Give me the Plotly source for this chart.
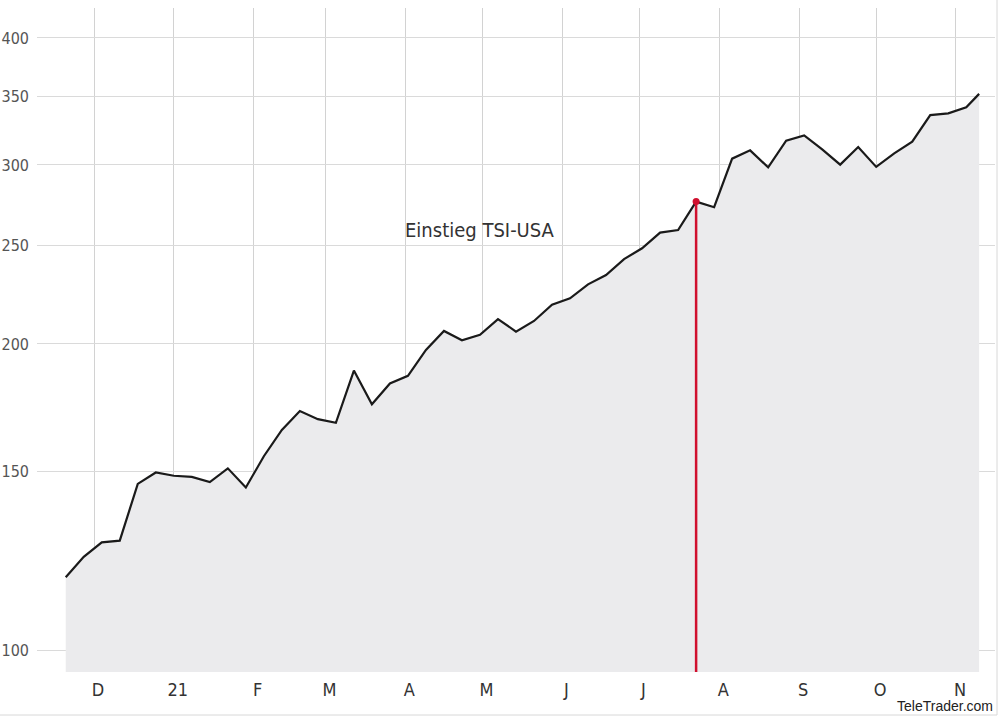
import plotly.graph_objects as go
import pandas as pd

# ---- data ----
dates = list(pd.date_range("2020-11-20", periods=51, freq="7D").strftime("%Y-%m-%d")) + ["2021-11-10"]
values = [117.9, 123.5, 127.6, 128.1, 145.7, 149.5, 148.4, 148.0, 146.3, 150.9,
          144.5, 155.1, 164.6, 171.8, 168.7, 167.3, 188.3, 174.5, 182.9, 186.1,
          197.3, 206.0, 201.7, 204.2, 211.6, 205.7, 210.7, 218.6, 221.8, 228.9,
          233.8, 242.4, 248.4, 257.4, 258.9, 276.1, 272.6, 304.3, 310.1, 298.4,
          317.0, 320.8, 310.8, 300.2, 312.4, 298.7, 308.0, 316.2, 335.9, 337.2,
          341.9, 352.4]
entry_index = 35
entry_label = "Einstieg TSI-USA"

month_ticks = ["2020-12-01", "2021-01-01", "2021-02-01", "2021-03-01", "2021-04-01",
               "2021-05-01", "2021-06-01", "2021-07-01", "2021-08-01", "2021-09-01",
               "2021-10-01", "2021-11-01"]
month_labels = ["D", "21", "F", "M", "A", "M", "J", "J", "A", "S", "O", "N"]
y_ticks = [100, 150, 200, 250, 300, 350, 400]
y_labels = [str(v) for v in y_ticks]

y_range_log = [1.9784, 2.6315]
x_range = ["2020-11-08 20:00", "2021-11-16 04:00"]

FONT = "Liberation Sans Narrow, DejaVu Sans Condensed, Arial Narrow, sans-serif"

fig = go.Figure()

fig.add_trace(go.Scatter(
    x=dates, y=values, mode="lines",
    line=dict(color="#1a1a1a", width=2.2),
    fill="tozeroy", fillcolor="#ebebed",
    hoverinfo="skip", showlegend=False,
))

y_floor = 10 ** y_range_log[0]
fig.add_trace(go.Scatter(
    x=[dates[entry_index], dates[entry_index]],
    y=[values[entry_index], y_floor],
    mode="lines", line=dict(color="#d0102e", width=2.5),
    hoverinfo="skip", showlegend=False,
))
fig.add_trace(go.Scatter(
    x=[dates[entry_index]], y=[values[entry_index]],
    mode="markers", marker=dict(color="#d0102e", size=7),
    hoverinfo="skip", showlegend=False,
))

fig.add_annotation(
    x="2021-04-30", y=2.413, xref="x", yref="y",
    text=entry_label, showarrow=False,
    font=dict(family=FONT, size=20, color="#333333"),
    xanchor="center", yanchor="middle",
)

fig.add_annotation(
    x=1.0, y=-0.0512, xref="paper", yref="paper",
    text="TeleTrader.com", showarrow=False,
    font=dict(family="Arial, Liberation Sans, sans-serif", size=14, color="#222222"),
    xanchor="right", yanchor="middle",
)

# thin frame at bottom and right of the image
fig.add_shape(type="line", xref="paper", yref="paper",
              x0=-0.04, x1=1.0021, y0=-0.0648, y1=-0.0648,
              line=dict(color="#d8d8d8", width=1))
fig.add_shape(type="line", xref="paper", yref="paper",
              x0=1.0021, x1=1.0021, y0=-0.0648, y1=1.02,
              line=dict(color="#d8d8d8", width=1))

fig.update_layout(
    width=1000, height=716,
    margin=dict(l=37, r=5, t=8, b=44, autoexpand=False),
    paper_bgcolor="white", plot_bgcolor="white",
    font=dict(family=FONT, color="#444444"),
)

fig.update_xaxes(
    type="date", range=x_range, automargin=False,
    tickvals=month_ticks, ticktext=month_labels,
    showgrid=True, gridcolor="#d2d2d2", gridwidth=1,
    showline=False, zeroline=False, ticks="",
    tickfont=dict(family=FONT, size=18, color="#333333"),
    ticklabelshift=4, ticklabelstandoff=5,
)
fig.update_yaxes(
    type="log", range=y_range_log, automargin=False,
    tickvals=y_ticks, ticktext=y_labels,
    showgrid=True, gridcolor="#dadada", gridwidth=1,
    showline=False, zeroline=False, ticks="",
    tickfont=dict(family=FONT, size=16, color="#555555"),
    ticklabelstandoff=7,
)

fig.write_html("out.html", config={"displayModeBar": False},
               post_script="document.body.style.margin='0';document.body.style.overflow='hidden';")
